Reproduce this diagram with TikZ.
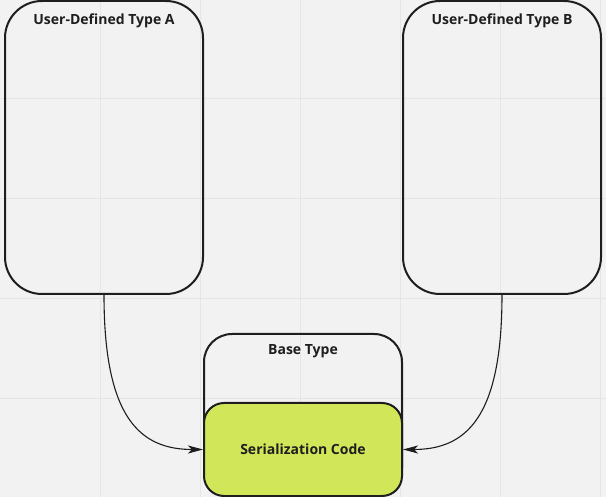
\documentclass[tikz,border=0pt]{standalone}
\usepackage{fontspec}
\setmainfont{Open Sans}
\usepackage{xcolor}
\usepackage{tikz}
\usetikzlibrary{arrows.meta, positioning, calc}

\definecolor{bgcol}{HTML}{F2F2F2}
\definecolor{gridcol}{HTML}{E5E5E5}
\definecolor{inkcol}{HTML}{1E1E1E}
\definecolor{codecol}{HTML}{D2E65A}

\begin{document}
\begin{tikzpicture}[x=1pt,y=-1pt,
    typebox/.style={draw=inkcol,line width=2pt,rounded corners=37pt,minimum width=198pt,minimum height=293pt,inner sep=0pt},
    basebox/.style={draw=inkcol,line width=2pt,rounded corners=28pt,minimum width=198pt,minimum height=162pt,inner sep=0pt},
    codebox/.style={draw=inkcol,fill=codecol,line width=2pt,rounded corners=20pt,minimum width=198pt,minimum height=93pt,inner sep=0pt,font=\bfseries\fontsize{14}{16}\selectfont,text=inkcol},
    boxtitle/.style={font=\bfseries\fontsize{14}{16}\selectfont,text=inkcol,anchor=base,inner sep=0pt},
    conn/.style={draw=inkcol,line width=1.1pt,-{Stealth[length=15pt,width=8pt,inset=4pt]}}]
    \useasboundingbox (0,0) rectangle (606,497);
    \fill[bgcol] (0,0) rectangle (606,497);
    \foreach \gx in {1,...,6}
        \draw[gridcol,line width=1.3pt] (\gx*100+0.5,0) -- (\gx*100+0.5,497);
    \foreach \gy in {1,...,4}
        \draw[gridcol,line width=1.3pt] (0,\gy*100-1.5) -- (606,\gy*100-1.5);

    \node[typebox] (typeA) at (104,147.5) {};
    \node[boxtitle] (titleA) at (104,25) {User-Defined Type A};
    \node[typebox] (typeB) at (502,147.5) {};
    \node[boxtitle] (titleB) at (502,25) {User-Defined Type B};

    \node[basebox] (base) at (303,415) {};
    \node[boxtitle] (baseTitle) at (303,355) {Base Type};
    \node[codebox] (code) at (303,449.5) {Serialization Code};

    \draw[conn] (typeA.south) .. controls +(0,123) and +(-63,0) .. (code.west);
    \draw[conn] (typeB.south) .. controls +(0,123) and +(63,0) .. (code.east);
\end{tikzpicture}
\end{document}
